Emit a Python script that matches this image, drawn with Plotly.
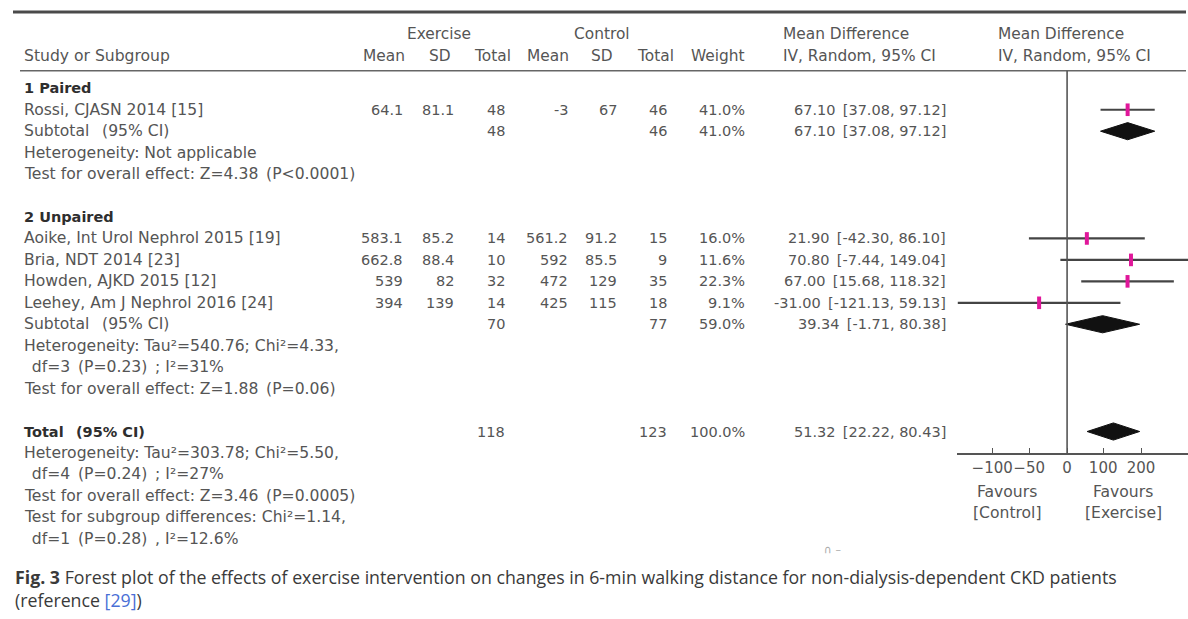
import plotly.graph_objects as go

# ---- study-level data -------------------------------------------------------
studies = ["Rossi, CJASN 2014 [15]", "Aoike, Int Urol Nephrol 2015 [19]",
           "Bria, NDT 2014 [23]", "Howden, AJKD 2015 [12]",
           "Leehey, Am J Nephrol 2016 [24]"]
study_group = [1, 2, 2, 2, 2]
ex_mean = [64.1, 583.1, 662.8, 539, 394]
ex_sd = [81.1, 85.2, 88.4, 82, 139]
ex_n = [48, 14, 10, 32, 14]
ct_mean = [-3, 561.2, 592, 472, 425]
ct_sd = [67, 91.2, 85.5, 129, 115]
ct_n = [46, 15, 9, 35, 18]
weight = [41.0, 16.0, 11.6, 22.3, 9.1]
md = [67.10, 21.90, 70.80, 67.00, -31.00]
ci_lo = [37.08, -42.30, -7.44, 15.68, -121.13]
ci_hi = [97.12, 86.10, 149.04, 118.32, 59.13]

# ---- pooled estimates (subgroup 1, subgroup 2, overall) ---------------------
group_titles = ["1 Paired", "2 Unpaired"]
pooled_label = ["Subtotal\u2002 (95% CI)", "Subtotal\u2002 (95% CI)", "Total\u2002 (95% CI)"]
pooled_ex_n = [48, 70, 118]
pooled_ct_n = [46, 77, 123]
pooled_weight = [41.0, 59.0, 100.0]
pooled_md = [67.10, 39.34, 51.32]
pooled_lo = [37.08, -1.71, 22.22]
pooled_hi = [97.12, 80.38, 80.43]

group_notes = [
    ["Heterogeneity: Not applicable",
     "Test for overall effect: Z=4.38\u2002(P<0.0001)"],
    ["Heterogeneity: Tau\u00b2=540.76; Chi\u00b2=4.33,",
     "\u2002df=3\u2002(P=0.23)\u2002; I\u00b2=31%",
     "Test for overall effect: Z=1.88\u2002(P=0.06)"],
]
total_notes = [
    "Heterogeneity: Tau\u00b2=303.78; Chi\u00b2=5.50,",
    "\u2002df=4\u2002(P=0.24)\u2002; I\u00b2=27%",
    "Test for overall effect: Z=3.46\u2002(P=0.0005)",
    "Test for subgroup differences: Chi\u00b2=1.14,",
    "\u2002df=1\u2002(P=0.28)\u2002, I\u00b2=12.6%",
]

axis_tick_pos = [-83, -42, 0, 40, 82]
axis_tick_text = ["\u2212100", "\u221250", "0", "100", "200"]

# ---- layout constants -------------------------------------------------------
W, H = 1188, 619
ROW0, ROWH = 88.3, 21.45          # pixel y of row 0 and row pitch
FONT = "DejaVu Sans, Noto Sans CJK JP, sans-serif"
FS_NUM = 14.5      # numeric columns and bold headings
FS_LAB = 15.6      # study names and notes
FS_HEAD = 15.4     # column headers
TXT = "#555555"
DARK = "#2e2e2e"


def row_of(py):
    return (py - ROW0) / ROWH


def px(x):
    return x / W


annotations = []


def text(s, x, row, anchor="left", color=TXT, size=FS_NUM, bold=False, yref="y", family=FONT):
    if bold:
        s = "<b>" + s + "</b>"
    annotations.append(dict(text=s, x=px(x), y=row, xref="paper", yref=yref,
                            xanchor=anchor, yanchor="middle", showarrow=False,
                            font=dict(family=family, size=size, color=color)))


# column right edges
COL = dict(ex_mean=405, ex_sd=456, ex_n=507, ct_mean=570, ct_sd=619,
           ct_n=669, weight=747, ci=948)
LEFT = 22


def g(v):
    return f"{v:g}"


def ci_text(m, lo, hi):
    return f"{m:.2f}\u2002[{lo:.2f}, {hi:.2f}]"


# ---- build rows -------------------------------------------------------------
row = 0
study_rows, pooled_rows = [], []
for gi, title in enumerate(group_titles):
    text(title, LEFT, row, color=DARK, bold=True)
    row += 1
    for si, name in enumerate(studies):
        if study_group[si] != gi + 1:
            continue
        text(name, LEFT, row, size=FS_LAB)
        text(g(ex_mean[si]), COL["ex_mean"], row, "right")
        text(g(ex_sd[si]), COL["ex_sd"], row, "right")
        text(g(ex_n[si]), COL["ex_n"], row, "right")
        text(g(ct_mean[si]), COL["ct_mean"], row, "right")
        text(g(ct_sd[si]), COL["ct_sd"], row, "right")
        text(g(ct_n[si]), COL["ct_n"], row, "right")
        text(f"{weight[si]:.1f}%", COL["weight"], row, "right")
        text(ci_text(md[si], ci_lo[si], ci_hi[si]), COL["ci"], row, "right")
        study_rows.append(row)
        row += 1
    text(pooled_label[gi], LEFT, row, size=FS_LAB)
    text(g(pooled_ex_n[gi]), COL["ex_n"], row, "right")
    text(g(pooled_ct_n[gi]), COL["ct_n"], row, "right")
    text(f"{pooled_weight[gi]:.1f}%", COL["weight"], row, "right")
    text(ci_text(pooled_md[gi], pooled_lo[gi], pooled_hi[gi]), COL["ci"], row, "right")
    pooled_rows.append(row)
    row += 1
    for note in group_notes[gi]:
        text(note, LEFT, row, size=FS_LAB)
        row += 1
    row += 1

# overall
text(pooled_label[2], LEFT, row, color=DARK, bold=True)
text(g(pooled_ex_n[2]), COL["ex_n"], row, "right")
text(g(pooled_ct_n[2]), COL["ct_n"], row, "right")
text(f"{pooled_weight[2]:.1f}%", COL["weight"], row, "right")
text(ci_text(pooled_md[2], pooled_lo[2], pooled_hi[2]), COL["ci"], row, "right")
pooled_rows.append(row)
row += 1
for note in total_notes:
    text(note, LEFT, row, size=FS_LAB)
    row += 1

# ---- column headers ---------------------------------------------------------
r1, r2 = row_of(34), row_of(56)
text("Exercise", 439, r1, "center", size=FS_HEAD)
text("Control", 602, r1, "center", size=FS_HEAD)
text("Mean Difference", 781, r1, size=FS_HEAD)
text("Mean Difference", 996, r1, size=FS_HEAD)
text("Study or Subgroup", LEFT, r2, size=FS_LAB)
for lab, cx in [("Mean", 384), ("SD", 440), ("Total", 492), ("Mean", 548),
                ("SD", 602), ("Total", 655), ("Weight", 718)]:
    text(lab, cx, r2, "center", size=FS_HEAD)
text("IV, Random, 95% CI", 781, r2, size=FS_HEAD)
text("IV, Random, 95% CI", 996, r2, size=FS_HEAD)

# favours labels under the axis
text("Favours", 1007, row_of(491.7), "center", size=15.6)
text("[Control]", 1007, row_of(513.3), "center", size=15.6)
text("Favours", 1123, row_of(491.7), "center", size=15.6)
text("[Exercise]", 1123, row_of(513.3), "center", size=15.6)
text("\u2229 \u2013", 833, row_of(549), "center", color="#aaaaaa", size=11)

# caption
CAP = "Open Sans, Noto Sans, sans-serif"
annotations.append(dict(
    text="<b>Fig. 3</b> Forest plot of the effects of exercise intervention on changes in "
         "6-min walking distance for non-dialysis-dependent CKD patients",
    x=px(13), y=1 - 576.7 / H, xref="paper", yref="paper", xanchor="left",
    yanchor="middle", showarrow=False, font=dict(family=CAP, size=17.75, color="#3a3a3a")))
annotations.append(dict(
    text="(reference <span style='color:#4a6fd6'>[29]</span>)",
    x=px(13), y=1 - 600 / H, xref="paper", yref="paper", xanchor="left",
    yanchor="middle", showarrow=False, font=dict(family=CAP, size=17.75, color="#3a3a3a")))

# ---- forest marks -----------------------------------------------------------
fig = go.Figure()

cx, cy = [], []
for r, lo, hi in zip(study_rows, ci_lo, ci_hi):
    cx += [lo, hi, None]
    cy += [r, r, None]
fig.add_trace(go.Scatter(x=cx, y=cy, mode="lines", line=dict(color="#444444", width=2.2),
                         hoverinfo="skip", showlegend=False))
fig.add_trace(go.Scatter(x=md, y=study_rows, mode="markers",
                         marker=dict(symbol="line-ns-open", size=9, color="#e0179a",
                                     line=dict(color="#e0179a", width=4)),
                         hoverinfo="skip", showlegend=False))

DH = 0.4
for r, m, lo, hi in zip(pooled_rows, pooled_md, pooled_lo, pooled_hi):
    fig.add_trace(go.Scatter(x=[lo, m, hi, m, lo], y=[r, r - DH, r, r + DH, r],
                             mode="lines", fill="toself", fillcolor="#111111",
                             line=dict(color="#111111", width=1),
                             hoverinfo="skip", showlegend=False))

# ---- rules ------------------------------------------------------------------
shapes = [
    dict(type="line", xref="paper", yref="y", x0=px(13), x1=px(1186),
         y0=row_of(12), y1=row_of(12), line=dict(color="#4a4a4a", width=3)),
    dict(type="line", xref="paper", yref="y", x0=px(20), x1=px(1186),
         y0=row_of(70.7), y1=row_of(70.7), line=dict(color="#666666", width=1.6)),
    dict(type="line", xref="x", yref="y", x0=0, x1=0,
         y0=row_of(70.7), y1=row_of(454), line=dict(color="#555555", width=1.6)),
]

AXIS_Y = 454
fig.update_layout(
    width=W, height=H, margin=dict(l=0, r=0, t=0, b=0),
    paper_bgcolor="white", plot_bgcolor="white",
    annotations=annotations, shapes=shapes, showlegend=False,
    xaxis=dict(domain=[957 / W, 1], range=[-122, 134], anchor="free",
               position=1 - AXIS_Y / H, showgrid=False, zeroline=False,
               showline=True, linecolor="#555555", linewidth=1.6,
               ticks="inside", ticklen=5, tickwidth=1.4, tickcolor="#555555",
               tickvals=axis_tick_pos, ticktext=axis_tick_text, tickangle=0,
               tickfont=dict(family=FONT, size=15, color=TXT), fixedrange=True),
    yaxis=dict(domain=[0, 1], range=[row_of(H), row_of(0)], visible=False,
               showgrid=False, zeroline=False, fixedrange=True),
)

fig.write_html("out.html")
